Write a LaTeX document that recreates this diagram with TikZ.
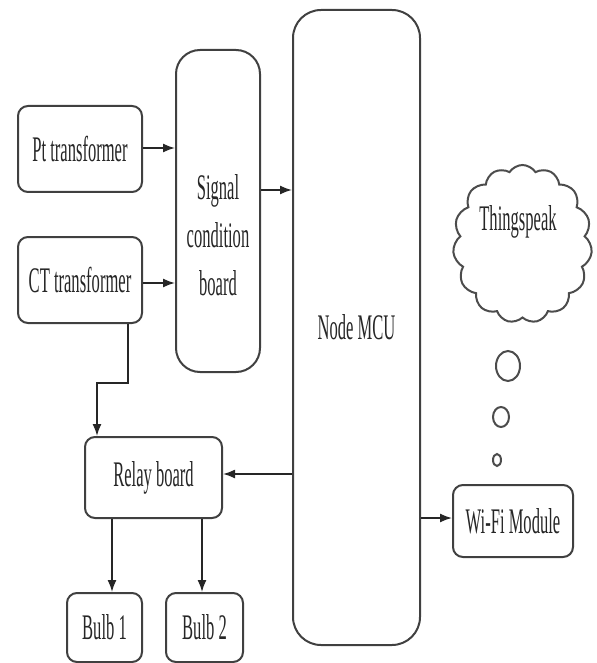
\documentclass[tikz,border=0pt]{standalone}
\usepackage{fontspec}
\setmainfont{Liberation Serif}[FakeStretch=0.46]
\usetikzlibrary{arrows.meta,shapes.symbols}

\tikzset{
  box/.style={draw=black!75,line width=1pt,rounded corners=5pt,align=center,
    inner sep=0pt,text=black!85,font=\fontsize{18}{24}\selectfont},
  txt/.style={align=center,text=black!85,font=\fontsize{18}{24}\selectfont},
  arr/.style={-{Latex[length=6pt,width=4.5pt]},line width=0.8pt,black!85},
  bubble/.style={draw=black!70,line width=1pt}
}

\begin{document}
\begin{tikzpicture}[x=0.5pt,y=-0.5pt]
  \useasboundingbox (0,0) rectangle (596,663);
  % sensors and conditioning
  \node[box,minimum width=62pt,minimum height=43pt] (PT)  at (80,149)  {Pt transformer};
  \node[box,minimum width=62pt,minimum height=43pt] (CT)  at (80,280)  {CT transformer};
  \node[box,minimum width=42pt,minimum height=161pt,rounded corners=12pt] (SCB) at (218,211) {};
  \node[txt]                                          (SCBt) at (218,235) {Signal\\condition\\board};
  \node[box,minimum width=63.5pt,minimum height=317.5pt,rounded corners=14pt] (MCU) at (356.5,327.5) {Node MCU};
  % outputs
  \node[box,minimum width=68.5pt,minimum height=40.5pt] (RB)  at (153.5,477.5) {Relay board};
  \node[box,minimum width=37.5pt,minimum height=34.5pt] (B1)  at (104.5,627.5) {Bulb 1};
  \node[box,minimum width=38.5pt,minimum height=34.5pt] (B2)  at (204.5,627.5) {Bulb 2};
  \node[box,minimum width=60pt,minimum height=36pt]     (WF)  at (513,521)     {Wi-Fi Module};
  % cloud
  \node[cloud,cloud puffs=15,cloud puff arc=115,cloud ignores aspect,draw=black!70,line width=1pt,
        minimum width=69.5pt,minimum height=79pt] (TS) at (522.5,244) {};
  \node[txt] (TSt) at (518,222) {Thingspeak};
  \draw[bubble] (508,366) ellipse [x radius=6pt,y radius=7.5pt];
  \draw[bubble] (501,417) ellipse [x radius=4pt,y radius=5pt];
  \draw[bubble] (497,460) ellipse [x radius=2pt,y radius=3pt];
  % connections
  \draw[arr] ([yshift=0.5pt]PT.east) -- ([yshift=0.5pt]PT.east -| SCB.west);
  \draw[arr] ([yshift=-1.5pt]CT.east) -- ([yshift=-1.5pt]CT.east -| SCB.west);
  \draw[arr] ([yshift=10.5pt]SCB.east) -- ([yshift=10.5pt]SCB.east -| MCU.west);
  \draw[arr] ([yshift=1.75pt]MCU.west |- RB.east) -- ([yshift=1.75pt]RB.east);
  \draw[arr] ([yshift=1.5pt]MCU.east |- WF.west) -- ([yshift=1.5pt]WF.west);
  \draw[arr] ([xshift=24pt]CT.south) -- ++(0,59) -| ([xshift=-28.25pt]RB.north);
  \draw[arr] ([xshift=3.75pt]B1.north |- RB.south) -- ([xshift=3.75pt]B1.north);
  \draw[arr] ([xshift=-1.25pt]B2.north |- RB.south) -- ([xshift=-1.25pt]B2.north);
\end{tikzpicture}
\end{document}
